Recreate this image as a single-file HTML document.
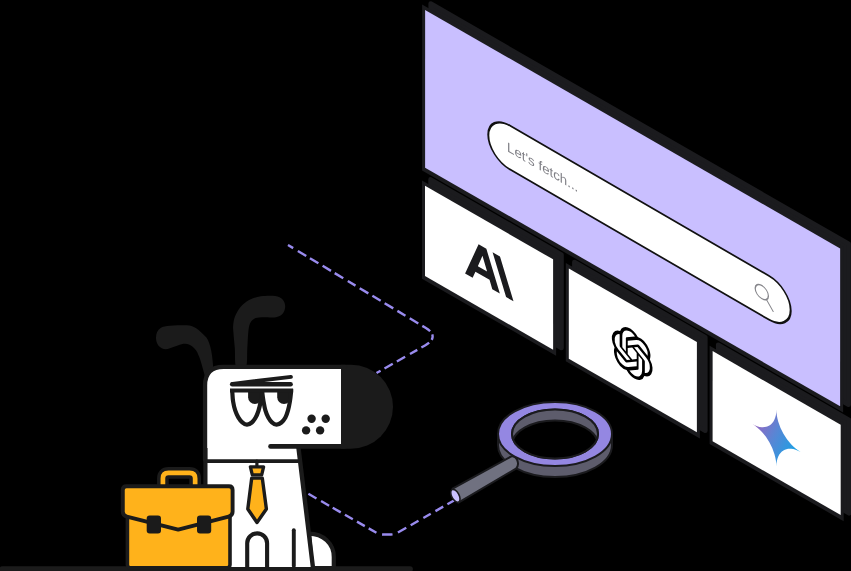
<!DOCTYPE html>
<html><head><meta charset="utf-8"><title>Fetch</title>
<style>html,body{margin:0;padding:0;background:#000;overflow:hidden}svg{display:block;will-change:transform}</style>
</head><body>
<svg width="851" height="571" viewBox="0 0 851 571">
<rect width="851" height="571" fill="#000"/>
<polygon points="430.60,179.39 561.50,254.66 561.50,347.96 430.60,272.69" fill="#1b1b1e" stroke="#1b1b1e" stroke-width="4.6" stroke-linejoin="round"/>
<polygon points="422.00,180.38 556.10,257.48 556.10,355.78 422.00,278.67" fill="#1b1b1e"/>
<polygon points="425.00,185.70 553.10,259.36 553.10,349.66 425.00,276.00" fill="#ffffff"/>
<polygon points="574.40,262.08 705.30,337.35 705.30,430.65 574.40,355.38" fill="#1b1b1e" stroke="#1b1b1e" stroke-width="4.6" stroke-linejoin="round"/>
<polygon points="565.80,263.06 699.90,340.17 699.90,438.47 565.80,361.36" fill="#1b1b1e"/>
<polygon points="568.80,268.38 696.90,342.04 696.90,432.34 568.80,358.69" fill="#ffffff"/>
<polygon points="718.20,344.76 849.10,420.03 849.10,513.33 718.20,438.06" fill="#1b1b1e" stroke="#1b1b1e" stroke-width="4.6" stroke-linejoin="round"/>
<polygon points="709.60,345.74 843.70,422.85 843.70,521.15 709.60,444.04" fill="#1b1b1e"/>
<polygon points="712.60,351.07 840.70,424.73 840.70,515.03 712.60,441.37" fill="#ffffff"/>
<polygon points="430.70,3.60 848.55,243.86 848.55,404.66 430.70,164.40" fill="#1b1b1e" stroke="#1b1b1e" stroke-width="4.6" stroke-linejoin="round"/>
<polygon points="422.10,4.58 843.15,246.68 843.15,412.48 422.10,170.38" fill="#1b1b1e"/>
<polygon points="425.10,9.90 840.15,248.55 840.15,406.35 425.10,167.70" fill="#c9bfff"/>
<g transform="matrix(1,0.58,0,1,425.1,9.03)">
<rect x="63.2" y="67.4" width="302.4" height="43.8" rx="21.9" ry="21.9" fill="#fff" stroke="#111" stroke-width="2"/>
<text x="82" y="94.5" font-family="Liberation Sans, sans-serif" font-size="13.3" fill="#7f7f85">Let's fetch...</text>
<circle cx="336.7" cy="87.8" r="6.6" fill="none" stroke="#86868b" stroke-width="1.3"/>
<line x1="341.4" y1="92.5" x2="348" y2="100.4" stroke="#86868b" stroke-width="1.3" stroke-linecap="round"/>
</g>
<g transform="matrix(1.066,0.613,0,1.156,465.1,236.5)" fill="#1b1b1e">
<path d="M32.73 0h-6.945L38.45 32h6.945L32.73 0ZM12.665 0 0 32h7.082l2.59-6.72h13.25l2.59 6.72h7.082L19.929 0h-7.264Zm-.702 19.337 4.334-11.246 4.334 11.246h-8.668Z"/>
</g>
<g transform="translate(632.2,353.5) matrix(1.72,0.993,0,1.986,0,0) translate(-12,-12)" fill="#000">
<path d="M22.2819 9.8211a5.9847 5.9847 0 0 0-.5157-4.9108 6.0462 6.0462 0 0 0-6.5098-2.9A6.0651 6.0651 0 0 0 4.9807 4.1818a5.9847 5.9847 0 0 0-3.9977 2.9 6.0462 6.0462 0 0 0 .7427 7.0966 5.98 5.98 0 0 0 .511 4.9107 6.051 6.051 0 0 0 6.5146 2.9001A5.9847 5.9847 0 0 0 13.2599 24a6.0557 6.0557 0 0 0 5.7718-4.2058 5.9894 5.9894 0 0 0 3.9977-2.9001 6.0557 6.0557 0 0 0-.7475-7.0729zm-9.022 12.6081a4.4755 4.4755 0 0 1-2.8764-1.0408l.1419-.0804 4.7783-2.7582a.7948.7948 0 0 0 .3927-.6813v-6.7369l2.02 1.1686a.071.071 0 0 1 .038.0615v5.5826a4.504 4.504 0 0 1-4.4945 4.4944zm-9.6607-4.1254a4.4708 4.4708 0 0 1-.5346-3.0137l.142.0852 4.783 2.7582a.7712.7712 0 0 0 .7806 0l5.8428-3.3685v2.3324a.0804.0804 0 0 1-.0332.0615L9.74 19.9502a4.4992 4.4992 0 0 1-6.1408-1.6464zM2.3408 7.8956a4.485 4.485 0 0 1 2.3655-1.9728V11.6a.7664.7664 0 0 0 .3879.6765l5.8144 3.3543-2.0201 1.1685a.0757.0757 0 0 1-.071 0l-4.8303-2.7865A4.504 4.504 0 0 1 2.3408 7.8956zm16.5963 3.8558L13.1038 8.364 15.1192 7.2a.0757.0757 0 0 1 .071 0l4.8303 2.7913a4.4944 4.4944 0 0 1-.6765 8.1042v-5.6772a.79.79 0 0 0-.407-.667zm2.0107-3.0231l-.142-.0852-4.7735-2.7818a.7759.7759 0 0 0-.7854 0L9.409 9.2297V6.8974a.0662.0662 0 0 1 .0284-.0615l4.8303-2.7866a4.4992 4.4992 0 0 1 6.6802 4.66zM8.3065 12.863l-2.02-1.1638a.0804.0804 0 0 1-.038-.0567V6.0742a4.4992 4.4992 0 0 1 7.3757-3.4537l-.142.0805L8.704 5.459a.7948.7948 0 0 0-.3927.6813zm1.0976-2.3654l2.602-1.4998 2.6069 1.4998v2.9994l-2.5974 1.4997-2.6067-1.4997Z"/>
</g>
<defs><linearGradient id="gg" gradientUnits="userSpaceOnUse" x1="2" y1="10" x2="24" y2="20">
<stop offset="0" stop-color="#9a63c0"/><stop offset="0.45" stop-color="#5a85d4"/><stop offset="1" stop-color="#17a3e6"/></linearGradient></defs>
<g transform="translate(776.4,438) matrix(1.72,1.0,0,2.03,0,0) translate(-14,-14)">
<path d="M14 28C14 26.0633 13.6267 24.2433 12.88 22.54C12.1567 20.8367 11.165 19.355 9.905 18.095C8.645 16.835 7.16333 15.8433 5.46 15.12C3.75667 14.3733 1.93667 14 0 14C1.93667 14 3.75667 13.6383 5.46 12.915C7.16333 12.1683 8.645 11.165 9.905 9.905C11.165 8.645 12.1567 7.16333 12.88 5.46C13.6267 3.75667 14 1.93667 14 0C14 1.93667 14.3617 3.75667 15.085 5.46C15.8317 7.16333 16.835 8.645 18.095 9.905C19.355 11.165 20.8367 12.1683 22.54 12.915C24.2433 13.6383 26.0633 14 28 14C26.0633 14 24.2433 14.3733 22.54 15.12C20.8367 15.8433 19.355 16.835 18.095 18.095C16.835 19.355 15.8317 20.8367 15.085 22.54C14.3617 24.2433 14 26.0633 14 28Z" fill="url(#gg)"/>
</g>
<path d="M288,245 L425.5,327.8 Q433.5,332.5 432.5,337.5 Q432,341.5 425,345.5 L376.5,373" fill="none" stroke="#998bee" stroke-width="2.4" stroke-dasharray="6.05 5.45 9.8 4.3 9.9 4.9 9.8 4.3 10.0 5.3 9.0 4.9 10.1 4.7 9.7 4.6 10.1 4.8 9.4 5.0 10.0 4.7 9.4 3.9 5.8 3.8 8.9 4.7 8.4 5.6 9.5 4.7 9.5 4.5 8.9"/>
<path d="M454,500.5 L397.5,532.8 Q394.5,534.5 391,534.5 L383,534.5 Q379.5,534.5 376.5,532.8 L307,493" fill="none" stroke="#998bee" stroke-width="2.4" stroke-dasharray="7.6 4.8 9.0 5.4 8.5 5.6 9.0 5.1 9.6 5.7 10.4 5.9 8.9 4.5 9.0 4.8 9.1 4.8 9.3 4.1 9.3 5.3 9.3 25.6"/>
<g>
<!-- ring side -->
<path d="M498,434 v11 a57,32 0 0 0 114,0 v-11 z" fill="#5d5c6c" stroke="#1b1b1e" stroke-width="2"/>
<!-- handle -->
<path d="M452.6,488.6 L510.8,456.7 Q514.5,455 517,459.5 Q519.5,465 516,468.6 L458.4,502.7 Z" fill="#707180" stroke="#1b1b1e" stroke-width="2" stroke-linejoin="round"/>
<ellipse cx="455.4" cy="495.8" rx="3.7" ry="7" transform="rotate(-28.7 455.4 495.8)" fill="#cbc2ff" stroke="#1b1b1e" stroke-width="1.6"/>
<!-- ring top -->
<path fill-rule="evenodd" d="M498,434 a57,32 0 1 0 114,0 a57,32 0 1 0 -114,0 Z M512,434 a43,24.5 0 1 0 86,0 a43,24.5 0 1 0 -86,0 Z" fill="#9487e2" stroke="#1b1b1e" stroke-width="2"/>
<!-- inner wall -->
<clipPath id="inner"><ellipse cx="555" cy="434" rx="43" ry="24.5"/></clipPath>
<g clip-path="url(#inner)">
<ellipse cx="555" cy="434" rx="43" ry="24.5" fill="#5d5c6c"/>
<ellipse cx="555" cy="445" rx="43" ry="24.5" fill="#000" stroke="#1b1b1e" stroke-width="2"/>
</g>
<ellipse cx="555" cy="434" rx="43" ry="24.5" fill="none" stroke="#1b1b1e" stroke-width="2"/>
</g>
<g stroke-linecap="round" stroke-linejoin="round">
<!-- floor -->
<line x1="2.5" y1="569.1" x2="410" y2="569.1" stroke="#1b1b1b" stroke-width="5.8"/>
<!-- ears -->
<path d="M160.6,327.9 C165,325.5 172.9,325.3 187,325.3 C193,325.3 199,329.5 206.4,337.6 C210.8,344 212.6,355 213.5,372 L205.5,378 C202,365.8 200.5,359 198.5,355.2 C196,348 190,343.8 185.3,343.8 C180,343.8 176.4,346.4 167.6,349.1 C160,350 156,344 156,338 C156,333 157.5,330 160.6,327.9 Z" fill="#1b1b1b"/>
<path d="M236.30,368.00 C234.47,364.67 235.28,353.97 234.80,348.00 C234.32,342.03 233.67,336.03 233.40,332.20 C233.13,328.37 232.93,327.62 233.20,325.00 C233.47,322.38 233.78,319.50 235.00,316.50 C236.22,313.50 238.15,309.75 240.50,307.00 C242.85,304.25 245.70,301.78 249.10,300.00 C252.50,298.22 256.57,296.97 260.90,296.30 C265.23,295.63 271.48,295.45 275.10,296.00 C278.72,296.55 280.92,297.85 282.60,299.60 C284.28,301.35 285.17,304.17 285.20,306.50 C285.23,308.83 284.33,311.82 282.80,313.60 C281.27,315.38 279.55,316.58 276.00,317.20 C272.45,317.82 265.13,317.03 261.50,317.30 C257.87,317.57 256.12,317.75 254.20,318.80 C252.28,319.85 250.98,321.37 250.00,323.60 C249.02,325.83 248.75,328.13 248.30,332.20 C247.85,336.27 247.72,342.03 247.30,348.00 C246.88,353.97 247.63,364.67 245.80,368.00 C243.97,371.33 238.13,371.33 236.30,368.00 Z" fill="#1b1b1b"/>
<!-- hind foot -->
<path d="M309,533.7 C323,533.7 333.8,543.5 333.8,557 L333.8,568 L312,568 Z" fill="#fff" stroke="#1b1b1b" stroke-width="4.2"/>
<!-- body -->
<path d="M205.4,440 L205.4,567 L312.9,567 L298.3,446 Z" fill="#fff"/>
<path d="M205.4,440 L205.4,567" fill="none" stroke="#1b1b1b" stroke-width="4.2"/>
<path d="M298.3,446.5 L312.9,567" fill="none" stroke="#1b1b1b" stroke-width="4.4"/>
<!-- nose -->
<path d="M341,364.7 L351,364.7 A42,42 0 0 1 351,448.7 L341,448.7 Z" fill="#1b1b1b"/>
<!-- head -->
<path d="M341,366.9 L224,366.9 Q205.2,366.9 205.2,386 L205.2,448 L341,448 Z" fill="#fff"/>
<path d="M345,366.95 L223.6,366.95 Q205.05,366.95 205.05,385.5 L205.05,460" fill="none" stroke="#1b1b1b" stroke-width="4.3"/>
<!-- mouth -->
<line x1="270.5" y1="446.4" x2="345" y2="446.4" stroke="#1b1b1b" stroke-width="4.6"/>
<!-- collar -->
<line x1="205.4" y1="461.1" x2="298" y2="461.1" stroke="#1b1b1b" stroke-width="3.9" stroke-linecap="butt"/>
<!-- eyebrow -->
<path d="M232.2,384.2 L290.6,384.2" fill="none" stroke="#1b1b1b" stroke-width="4.5"/>
<path d="M232.6,383.8 L291,376.9" fill="none" stroke="#1b1b1b" stroke-width="3.8"/>
<!-- eyes -->
<clipPath id="eyeL"><path d="M232.30,389.00 C232.31,389.62 232.22,390.62 232.35,392.70 C232.48,394.78 232.62,398.55 233.10,401.50 C233.57,404.45 234.33,407.77 235.20,410.40 C236.07,413.03 237.12,415.32 238.30,417.30 C239.48,419.28 240.86,421.07 242.30,422.30 C243.74,423.53 245.37,424.67 246.95,424.70 C248.53,424.73 250.38,423.65 251.80,422.50 C253.23,421.35 254.40,419.72 255.50,417.80 C256.60,415.88 257.53,413.72 258.40,411.00 C259.27,408.28 260.10,404.57 260.70,401.50 C261.30,398.43 261.75,394.68 262.00,392.60 C262.25,390.52 262.17,389.60 262.20,389.00 Z"/></clipPath>
<clipPath id="eyeR"><path d="M262.10,389.00 C262.13,389.62 262.06,390.62 262.30,392.70 C262.54,394.78 263.03,398.55 263.55,401.50 C264.07,404.45 264.61,407.73 265.40,410.40 C266.19,413.07 267.21,415.52 268.30,417.50 C269.39,419.48 270.58,421.10 271.95,422.30 C273.32,423.50 274.93,424.67 276.50,424.70 C278.07,424.73 279.92,423.70 281.40,422.50 C282.88,421.30 284.30,419.52 285.40,417.50 C286.50,415.48 287.25,413.07 288.00,410.40 C288.75,407.73 289.40,404.47 289.90,401.50 C290.40,398.53 290.80,394.68 291.00,392.60 C291.20,390.52 291.08,389.60 291.10,389.00 Z"/></clipPath>
<path d="M248.1,390 V397.3 A6.8,6.8 0 0 0 261.7,397.3 V390 Z" fill="#1b1b1b" clip-path="url(#eyeL)"/>
<path d="M277.2,390 V397.3 A6.8,6.8 0 0 0 290.8,397.3 V390 Z" fill="#1b1b1b" clip-path="url(#eyeR)"/>
<path d="M232.30,389.00 C232.31,389.62 232.22,390.62 232.35,392.70 C232.48,394.78 232.62,398.55 233.10,401.50 C233.57,404.45 234.33,407.77 235.20,410.40 C236.07,413.03 237.12,415.32 238.30,417.30 C239.48,419.28 240.86,421.07 242.30,422.30 C243.74,423.53 245.37,424.67 246.95,424.70 C248.53,424.73 250.38,423.65 251.80,422.50 C253.23,421.35 254.40,419.72 255.50,417.80 C256.60,415.88 257.53,413.72 258.40,411.00 C259.27,408.28 260.10,404.57 260.70,401.50 C261.30,398.43 261.75,394.68 262.00,392.60 C262.25,390.52 262.17,389.60 262.20,389.00" fill="none" stroke="#1b1b1b" stroke-width="4.2" stroke-linecap="butt"/>
<path d="M262.10,389.00 C262.13,389.62 262.06,390.62 262.30,392.70 C262.54,394.78 263.03,398.55 263.55,401.50 C264.07,404.45 264.61,407.73 265.40,410.40 C266.19,413.07 267.21,415.52 268.30,417.50 C269.39,419.48 270.58,421.10 271.95,422.30 C273.32,423.50 274.93,424.67 276.50,424.70 C278.07,424.73 279.92,423.70 281.40,422.50 C282.88,421.30 284.30,419.52 285.40,417.50 C286.50,415.48 287.25,413.07 288.00,410.40 C288.75,407.73 289.40,404.47 289.90,401.50 C290.40,398.53 290.80,394.68 291.00,392.60 C291.20,390.52 291.08,389.60 291.10,389.00" fill="none" stroke="#1b1b1b" stroke-width="4.2" stroke-linecap="butt"/>
<line x1="230" y1="390.5" x2="293.1" y2="390.5" stroke="#1b1b1b" stroke-width="4.2" stroke-linecap="butt"/>
<!-- spots -->
<circle cx="311.6" cy="418.8" r="4.2" fill="#1b1b1b"/><circle cx="325.7" cy="418.8" r="4.2" fill="#1b1b1b"/>
<circle cx="306.1" cy="430.4" r="4.2" fill="#1b1b1b"/><circle cx="320.1" cy="430.4" r="4.2" fill="#1b1b1b"/>
<!-- tie -->
<line x1="256.9" y1="461" x2="256.9" y2="467" stroke="#1b1b1b" stroke-width="3.2"/>
<path d="M250.4,466.8 L263.6,466.8 L261.7,474.9 L252.3,474.9 Z" fill="#ffb21b" stroke="#1b1b1b" stroke-width="3.3"/>
<path d="M251.7,478.1 L262.3,478.1 L266.4,509 L257,522.5 L247.8,509 Z" fill="#ffb21b" stroke="#1b1b1b" stroke-width="3.4"/>
<!-- front leg -->
<path d="M247.2,567 L247.2,543.3 A9.95,9.95 0 0 1 267.1,543.3 L267.1,567" fill="none" stroke="#1b1b1b" stroke-width="4.1"/>
<line x1="293.8" y1="530.2" x2="293.8" y2="566" stroke="#1b1b1b" stroke-width="3.9"/>
<!-- briefcase -->
<path d="M162.9,487 V478.4 Q162.9,472.9 168.4,472.9 H189.6 Q195.15,472.9 195.15,478.4 V487" fill="none" stroke="#1b1b1b" stroke-width="11.7" stroke-linecap="butt"/>
<path d="M162.9,487 V478.4 Q162.9,472.9 168.4,472.9 H189.6 Q195.15,472.9 195.15,478.4 V487" fill="none" stroke="#ffb21b" stroke-width="4.7" stroke-linecap="butt"/>
<rect x="127.4" y="500" width="102.6" height="67.8" rx="3" fill="#ffb21b" stroke="#1b1b1b" stroke-width="3.6"/>
<path d="M126.5,486.3 H229 Q232.6,486.3 232.6,490 V511.8 Q232.6,515.6 228.6,516.6 L178.2,529.6 L126.8,516.6 Q122.8,515.6 122.8,511.8 V490 Q122.8,486.3 126.5,486.3 Z" fill="#ffb21b" stroke="#1b1b1b" stroke-width="3.9"/>
<rect x="146.7" y="515.4" width="14.3" height="18.1" rx="3" fill="#1b1b1b"/>
<rect x="197" y="515.4" width="14.2" height="18.1" rx="3" fill="#1b1b1b"/>
</g>

</svg>
</body></html>
